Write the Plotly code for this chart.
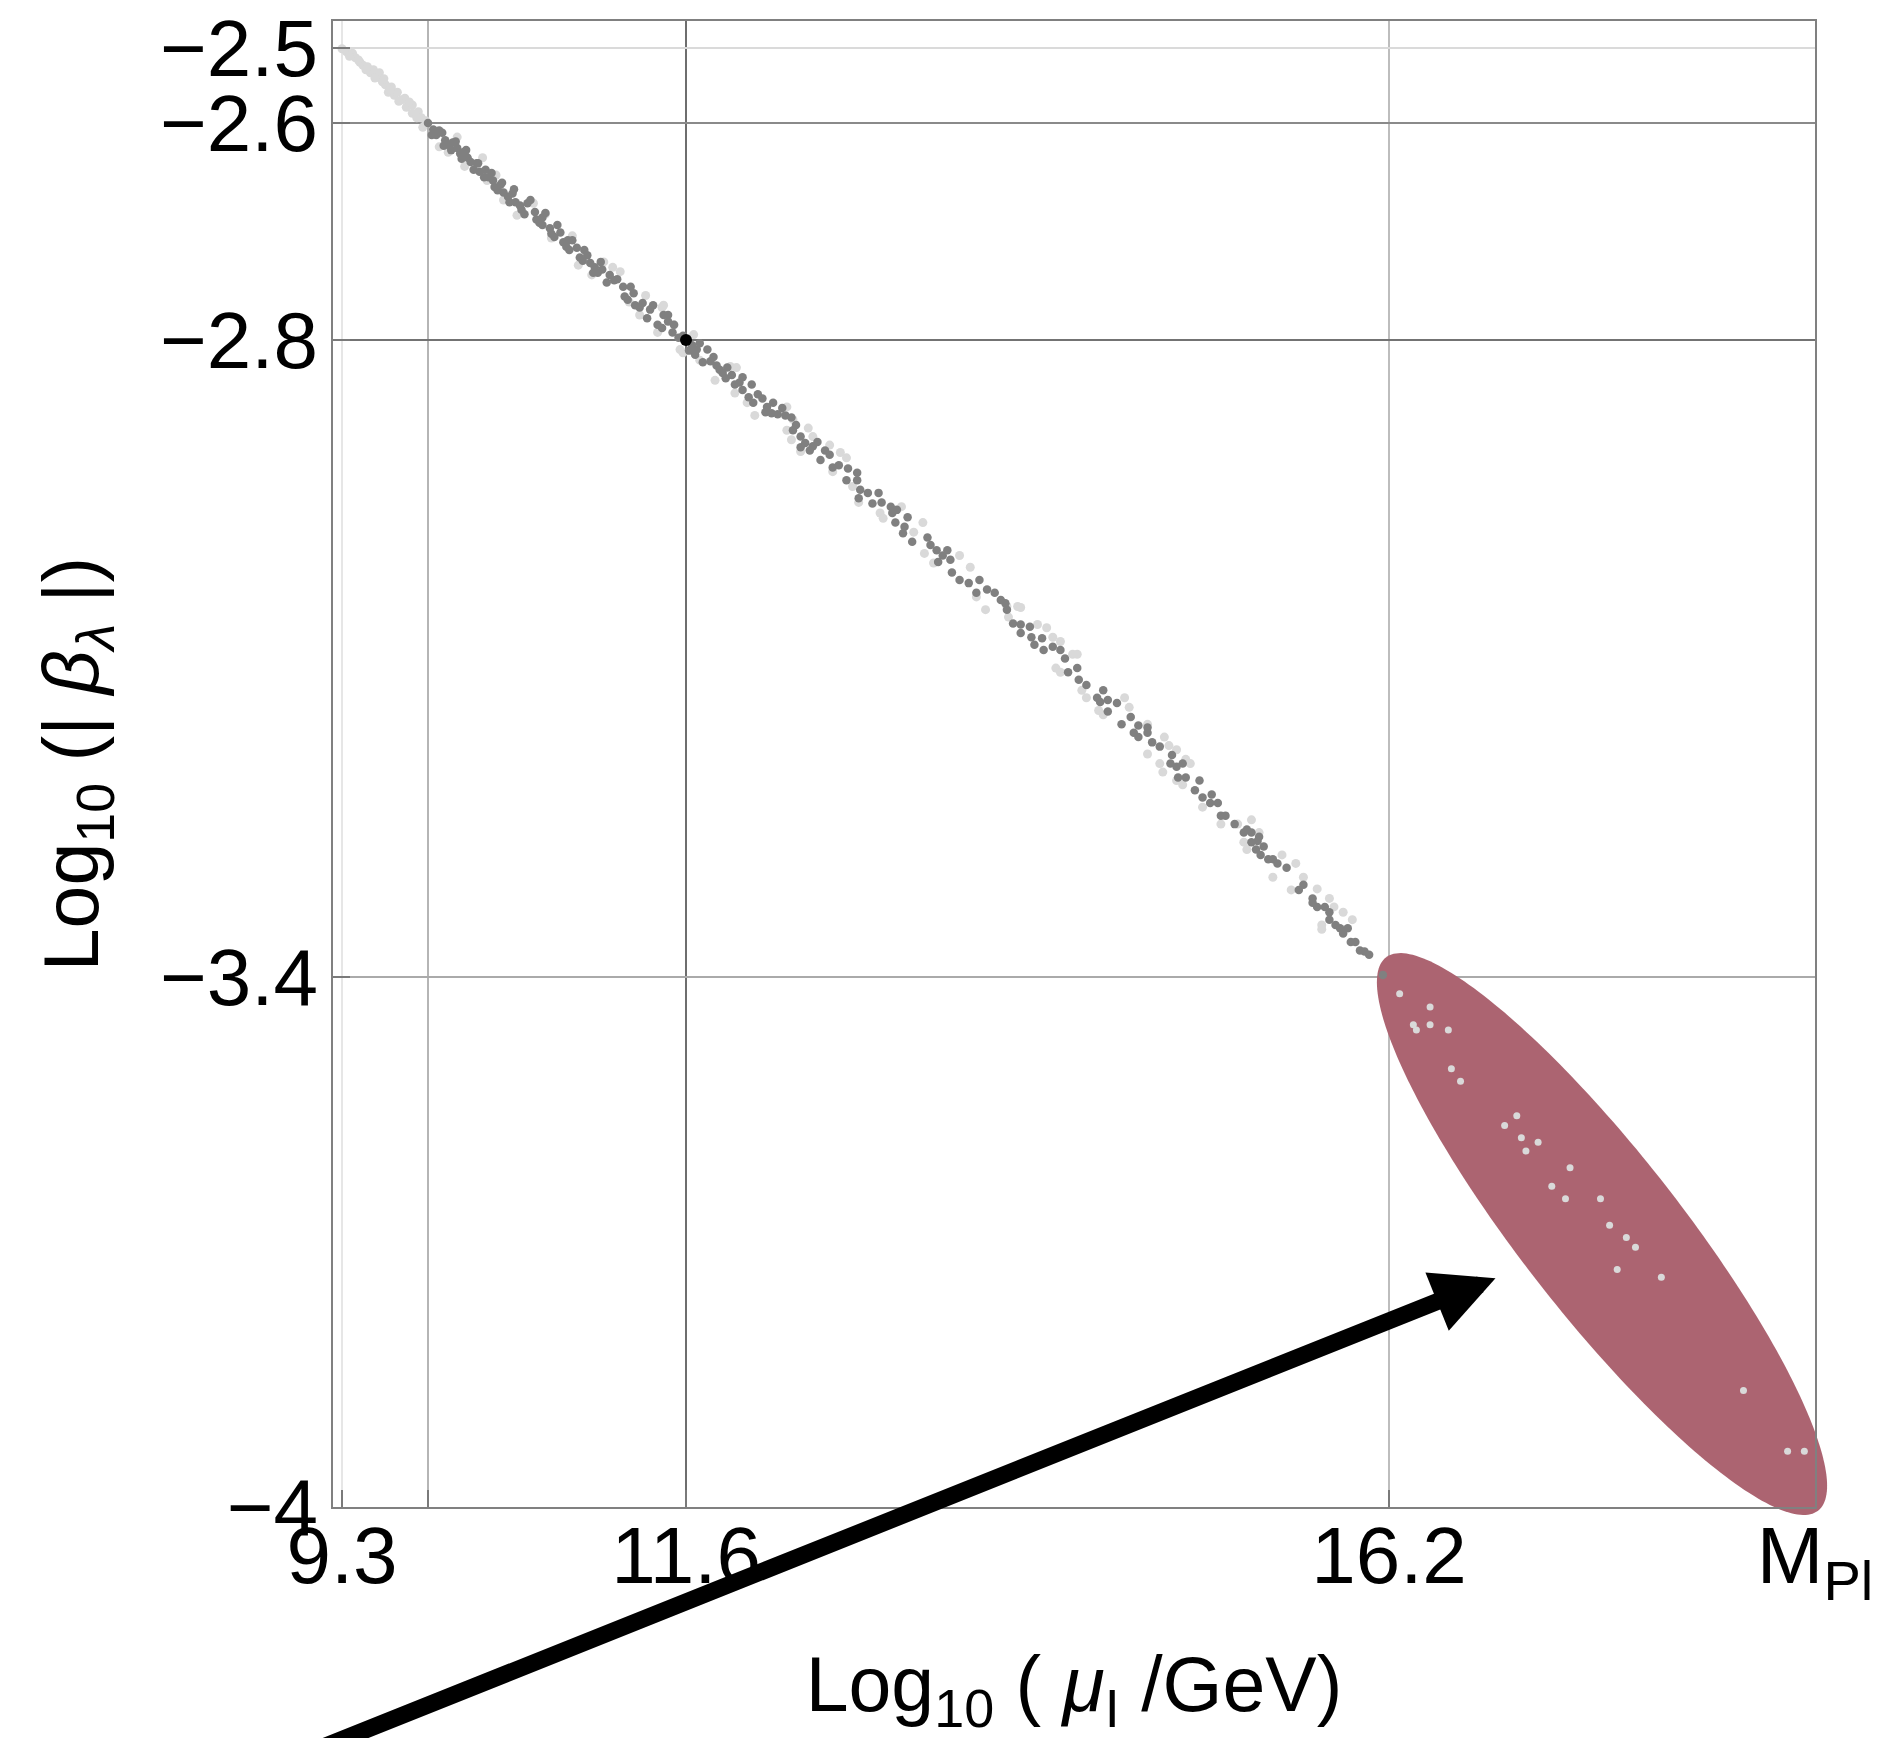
import numpy as np
import plotly.graph_objects as go

# ---------------- tick labels / scale ----------------
X_TICK_VALUES = [9.3, 9.875, 11.6, 16.2, 19.0]
X_TICK_TEXT = ["9.3", "", "11.6", "16.2", "M<sub>Pl</sub>"]
Y_TICK_VALUES = [-2.5, -2.6, -2.8, -3.4, -4.0]
Y_TICK_TEXT = ["\u22122.5", "\u22122.6", "\u22122.8", "\u22123.4", "\u22124"]

# ---------------- data ----------------
LIGHT_X = [9.30, 9.33, 9.37, 9.39, 9.37, 9.42, 9.44, 9.47, 9.49, 9.51, 9.53, 9.55, 9.57,
           9.59, 9.61, 9.63, 9.65, 9.67, 9.70, 9.72, 9.73, 9.77, 9.77, 9.81, 9.83, 9.84,
           10.01, 10.07, 10.24, 10.38, 10.27, 10.51, 10.58, 10.88, 11.11, 11.45, 11.41, 11.65,
           9.95, 10.12, 10.33, 10.47, 10.66, 10.70, 10.84, 10.97, 11.05, 11.22, 11.33, 11.52,
           11.16, 11.29, 11.44, 11.56, 11.58, 11.69, 11.79, 11.89, 11.93, 11.92, 12.00, 12.05,
           12.26, 12.30, 12.26, 12.29, 12.40, 12.43, 12.35, 12.54, 12.61, 12.65, 12.56, 12.69,
           12.73, 12.87, 13.01, 12.89, 13.09, 13.15, 13.16, 13.22, 13.39, 13.46, 13.50, 13.56,
           13.70, 13.77, 13.71,
           13.79, 13.90, 13.96, 14.00, 14.05, 14.13, 14.16, 14.02, 14.05, 14.19, 14.22, 14.30,
           14.33, 14.47, 14.50, 14.62, 14.73, 14.76, 14.81, 14.62, 14.70, 14.72, 14.81, 14.85,
           14.87, 14.90, 14.98, 15.10, 15.21, 15.30, 15.35, 15.25, 15.27, 15.50, 15.59, 15.44,
           15.64, 15.56, 15.73, 15.81, 15.84, 15.90, 15.96, 15.76, 15.76,
           9.35, 9.41, 9.46, 9.52, 9.58, 9.62, 9.68, 9.75, 9.80, 9.86]
LIGHT_Y = [-2.501, -2.505, -2.509, -2.513, -2.507, -2.519, -2.523, -2.525, -2.533, -2.529, -2.539,
           -2.533, -2.545, -2.549, -2.559, -2.552, -2.563, -2.559, -2.569, -2.567, -2.579, -2.576,
           -2.587, -2.585, -2.593, -2.604,
           -2.627, -2.613, -2.632, -2.671, -2.653, -2.683, -2.674, -2.731, -2.733, -2.768, -2.793, -2.795,
           -2.622, -2.640, -2.648, -2.685, -2.684, -2.706, -2.704, -2.740, -2.728, -2.765, -2.759, -2.786,
           -2.737, -2.777, -2.770, -2.809, -2.812, -2.819, -2.838, -2.825, -2.826, -2.850, -2.859, -2.871,
           -2.863, -2.875, -2.885, -2.894, -2.883, -2.891, -2.905, -2.899, -2.906, -2.911, -2.924, -2.938,
           -2.953, -2.963, -2.957, -2.968, -2.981, -2.972, -3.001, -3.010, -3.003, -3.014, -3.042, -3.054,
           -3.051, -3.051, -3.061,
           -3.052, -3.068, -3.071, -3.080, -3.084, -3.096, -3.096, -3.109, -3.113, -3.130, -3.137, -3.149,
           -3.153, -3.137, -3.146, -3.162, -3.174, -3.182, -3.186, -3.190, -3.199, -3.207, -3.215, -3.219,
           -3.195, -3.199, -3.240, -3.256, -3.256, -3.252, -3.264, -3.273, -3.280, -3.285, -3.293, -3.306,
           -3.306, -3.318, -3.317, -3.326, -3.334, -3.339, -3.346, -3.351, -3.355,
           -2.511, -2.516, -2.529, -2.540, -2.541, -2.556, -2.571, -2.572, -2.593, -2.597]

DARK_X = [9.875, 9.91, 9.93, 9.97, 9.99, 10.01, 10.04, 10.07, 10.09, 10.11, 10.14, 10.16, 10.20,
          10.22, 10.26, 10.28, 10.31, 10.32, 10.36, 10.38, 10.41, 10.44, 10.46, 10.49, 10.54, 10.50,
          10.59, 10.60, 10.64, 10.64, 10.69, 10.72, 10.76, 10.78, 10.81, 10.82, 10.87, 10.89, 10.94,
          10.96, 10.99, 11.01,
          11.04, 11.09, 11.12, 11.18, 11.19, 11.25, 11.26, 11.31, 11.36, 11.34, 11.41, 11.48, 11.48,
          11.51, 11.55, 11.64, 11.67, 11.66, 11.74, 11.71, 11.78, 11.80, 11.82, 11.87, 11.86, 11.90,
          11.92, 11.97, 11.97, 12.03, 12.01, 12.04, 12.10, 12.13, 12.16, 12.17, 12.23, 12.25, 12.29,
          12.30, 12.35, 12.38, 12.35, 12.41, 12.46, 12.48, 12.54, 12.56, 12.66, 12.65, 12.72, 12.72,
          12.74, 12.73, 12.79, 12.82, 12.86, 12.88, 12.94, 12.95, 12.98, 13.05, 12.97, 13.03, 13.02,
          13.08, 13.18, 13.20, 13.24, 13.28, 13.31, 13.25, 13.33, 13.34, 13.39, 13.45, 13.52, 13.50,
          13.57, 13.62, 13.66, 13.69,
          13.70, 13.74, 13.79, 13.85, 13.79, 13.86, 13.88, 13.93, 13.94, 14.00, 14.05, 14.08, 14.10,
          14.16, 14.17, 14.22, 14.29, 14.33, 14.31, 14.36, 14.42, 14.36, 14.45, 14.51, 14.56, 14.53,
          14.56, 14.62, 14.62, 14.65, 14.70, 14.78, 14.77, 14.81, 14.85, 14.82, 14.87, 14.96, 14.93,
          14.98, 15.04, 15.03, 15.08, 15.10, 15.13, 15.19, 15.27, 15.25, 15.30, 15.35, 15.30, 15.34,
          15.38, 15.33, 15.36, 15.41, 15.44, 15.47, 15.53, 15.64, 15.61, 15.70, 15.70, 15.73, 15.78,
          15.81, 15.81, 15.85, 15.88, 15.93, 15.90, 15.95, 15.98, 16.01, 16.04, 16.07, 16.16,
          9.90, 9.95, 9.98, 10.03, 10.06, 10.10, 10.13, 10.18, 10.21, 10.25, 10.30, 10.34, 10.37,
          10.42, 10.45, 10.52, 10.56, 10.62, 10.66, 10.70, 10.74, 10.80, 10.84, 10.91, 10.92, 10.98,
          11.03, 11.07, 11.14, 11.21, 11.23, 11.29, 11.38, 11.44, 11.45, 11.52, 11.58, 11.62, 11.69,
          11.76, 11.84, 11.95, 12.07, 12.12, 12.20, 12.32, 12.43, 12.51, 12.60]
DARK_Y = [-2.600, -2.606, -2.611, -2.609, -2.616, -2.620, -2.618, -2.623, -2.628, -2.627, -2.632,
          -2.636, -2.637, -2.645, -2.643, -2.650, -2.653, -2.659, -2.657, -2.664, -2.668, -2.665,
          -2.673, -2.676, -2.674, -2.680, -2.682, -2.689, -2.687, -2.694, -2.697, -2.705, -2.701,
          -2.710, -2.708, -2.717, -2.715, -2.724, -2.722, -2.729, -2.733, -2.738,
          -2.735, -2.740, -2.745, -2.751, -2.760, -2.757, -2.768, -2.766, -2.772, -2.780, -2.786,
          -2.777, -2.783, -2.793, -2.798, -2.805, -2.809, -2.814, -2.809, -2.821, -2.816, -2.824,
          -2.828, -2.826, -2.836, -2.833, -2.842, -2.835, -2.847, -2.842, -2.854, -2.859, -2.855,
          -2.863, -2.869, -2.859, -2.864, -2.871, -2.873, -2.885, -2.891, -2.897, -2.901, -2.904,
          -2.896, -2.913, -2.908, -2.920, -2.921, -2.932, -2.925, -2.932, -2.941, -2.949, -2.944,
          -2.954, -2.944, -2.953, -2.957, -2.963, -2.960, -2.967, -2.972, -2.976, -2.982, -2.990,
          -2.986, -2.993, -2.998, -3.003, -2.998, -3.009, -3.007, -3.019, -3.026, -3.029, -3.026,
          -3.038, -3.035, -3.038, -3.045, -3.048,
          -3.054, -3.067, -3.068, -3.070, -3.076, -3.080, -3.087, -3.081, -3.092, -3.089, -3.092,
          -3.100, -3.113, -3.109, -3.120, -3.125, -3.137, -3.130, -3.141, -3.139, -3.142, -3.150,
          -3.162, -3.155, -3.163, -3.170, -3.174, -3.165, -3.170, -3.179, -3.183, -3.191, -3.199,
          -3.202, -3.199, -3.212, -3.212, -3.215, -3.224, -3.231, -3.228, -3.236, -3.236, -3.248,
          -3.248, -3.256, -3.261, -3.264, -3.264, -3.268, -3.273, -3.272, -3.277, -3.280, -3.285,
          -3.289, -3.289, -3.293, -3.297, -3.313, -3.318, -3.326, -3.330, -3.334, -3.334, -3.339,
          -3.346, -3.351, -3.354, -3.354, -3.359, -3.367, -3.367, -3.375, -3.376, -3.379, -3.398,
          -2.611, -2.607, -2.621, -2.625, -2.617, -2.633, -2.625, -2.643, -2.637, -2.650, -2.646,
          -2.662, -2.655, -2.673, -2.661, -2.684, -2.671, -2.692, -2.683, -2.702, -2.694, -2.714,
          -2.708, -2.727, -2.717, -2.738, -2.728, -2.747, -2.744, -2.763, -2.751, -2.770, -2.768,
          -2.789, -2.777, -2.786, -2.796, -2.810, -2.803, -2.820, -2.831, -2.840, -2.851, -2.868,
          -2.870, -2.880, -2.900, -2.904, -2.918]

CORE_X = [16.27, 16.47, 16.36, 16.38, 16.47, 16.59, 16.61, 16.67, 17.04, 16.96, 17.07, 17.18,
          17.10, 17.39, 17.27, 17.36, 17.59, 17.65, 17.76, 17.82, 17.70, 17.99, 18.53, 18.82, 18.93]
CORE_Y = [-3.419, -3.434, -3.454, -3.460, -3.454, -3.460, -3.504, -3.518, -3.557, -3.568, -3.582,
          -3.587, -3.597, -3.616, -3.637, -3.651, -3.651, -3.681, -3.695, -3.706, -3.731, -3.740,
          -3.868, -3.937, -3.937]

MARK_X = [11.6]
MARK_Y = [-2.8]

# highlighted region (ellipse) and arrow, in data values
ELLIPSE_CENTER = (17.60, -3.691)
ARROW_TIP = (16.90, -3.741)
ARROW_TAIL = (8.785, -4.298)

# ---------------- frame scale (non-uniform axes) ----------------
X_SCALE_POS = [9, 95, 353, 1056, 1482]
Y_SCALE_POS = [27, 102, 319, 956, 1486]
X_FRAME = 1482
Y_FRAME = 1486


def scale(v, knots, pos):
    v = np.atleast_1d(np.asarray(v, float))
    k = np.asarray(knots, float)
    p = np.asarray(pos, float)
    if k[0] > k[-1]:
        k = k[::-1]
        p = p[::-1]
    out = np.interp(v, k, p)
    lo = v < k[0]
    hi = v > k[-1]
    out[lo] = p[0] + (v[lo] - k[0]) * (p[1] - p[0]) / (k[1] - k[0])
    out[hi] = p[-1] + (v[hi] - k[-1]) * (p[-1] - p[-2]) / (k[-1] - k[-2])
    return out


def sx(v):
    return scale(v, X_TICK_VALUES, X_SCALE_POS)


def sy(v):
    return scale(v, Y_TICK_VALUES, Y_SCALE_POS)


FONT = "Liberation Sans, Arial, Helvetica, sans-serif"
FS = 80
FS_TITLE = 77

fig = go.Figure()

fig.add_trace(go.Scatter(x=sx(LIGHT_X), y=sy(LIGHT_Y), mode="markers",
                         marker=dict(color="#d9d9d9", size=9, line=dict(width=0)),
                         hoverinfo="skip"))
fig.add_trace(go.Scatter(x=sx(DARK_X), y=sy(DARK_Y), mode="markers",
                         marker=dict(color="#808080", size=8.5, line=dict(width=0)),
                         hoverinfo="skip"))
fig.add_trace(go.Scatter(x=sx(CORE_X), y=sy(CORE_Y), mode="markers",
                         marker=dict(color="#d9d9d9", size=7, line=dict(width=0)),
                         hoverinfo="skip"))
fig.add_trace(go.Scatter(x=sx(MARK_X), y=sy(MARK_Y), mode="markers",
                         marker=dict(color="black", size=12, line=dict(width=0)),
                         hoverinfo="skip"))

# grid lines (individually styled)
X_GRID_COLORS = ["#e6e6e6", "#b5b5b5", "#6e6e6e", "#bdbdbd", None]
Y_GRID_COLORS = ["#dadada", "#8a8a8a", "#737373", "#aaaaaa", None]
shapes = []
for xv, c in zip(sx(X_TICK_VALUES), X_GRID_COLORS):
    if c:
        shapes.append(dict(type="line", xref="x", yref="paper", x0=xv, x1=xv, y0=0, y1=1,
                           line=dict(color=c, width=2), layer="below"))
for yv, c in zip(sy(Y_TICK_VALUES), Y_GRID_COLORS):
    if c:
        shapes.append(dict(type="line", xref="paper", yref="y", x0=0, x1=1, y0=yv, y1=yv,
                           line=dict(color=c, width=2), layer="below"))

# ellipse (paper coordinates so it is not clipped by the frame)
cx = sx(ELLIPSE_CENTER[0])[0]
cy = sy(ELLIPSE_CENTER[1])[0]
a, b, th = 351.0, 80.0, np.deg2rad(52.0)
t = np.linspace(0, 2 * np.pi, 241)
ex = cx + a * np.cos(t) * np.cos(th) - b * np.sin(t) * np.sin(th)
ey = cy + a * np.cos(t) * np.sin(th) + b * np.sin(t) * np.cos(th)
px = ex / X_FRAME
py = 1 - ey / Y_FRAME
path = "M " + " L ".join(f"{u:.5f},{w:.5f}" for u, w in zip(px, py)) + " Z"
shapes.append(dict(type="path", xref="paper", yref="paper", path=path,
                   fillcolor="#ac6471", line=dict(width=0), layer="below"))

fig.update_layout(
    width=1896, height=1738,
    margin=dict(l=333, r=81, t=21, b=231),
    paper_bgcolor="white", plot_bgcolor="white",
    showlegend=False,
    font=dict(family=FONT, size=FS, color="black"),
    shapes=shapes,
    annotations=[dict(
        x=sx(ARROW_TIP[0])[0], y=sy(ARROW_TIP[1])[0], xref="x", yref="y",
        ax=sx(ARROW_TAIL[0])[0], ay=sy(ARROW_TAIL[1])[0], axref="x", ayref="y",
        text="", showarrow=True, arrowhead=2, arrowsize=0.74, arrowwidth=17,
        arrowcolor="black")],
)

fig.update_xaxes(
    range=[0, X_FRAME], tickmode="array", tickvals=list(sx(X_TICK_VALUES)), ticktext=X_TICK_TEXT,
    ticks="inside", ticklen=17, tickwidth=2, tickcolor="#7a7a7a",
    showgrid=False, zeroline=False, showline=True, linecolor="#808080", linewidth=2, mirror=True,
    tickfont=dict(family=FONT, size=FS, color="black"), ticklabelstandoff=-22,
    title=dict(text="Log<sub>10</sub> ( <i>\u03bc</i><sub>I</sub> /GeV)",
               font=dict(family=FONT, size=FS_TITLE, color="black"), standoff=64),
    automargin=False, fixedrange=True,
)
fig.update_yaxes(
    range=[Y_FRAME, 0], tickmode="array", tickvals=list(sy(Y_TICK_VALUES)), ticktext=Y_TICK_TEXT,
    ticks="inside", ticklen=17, tickwidth=2, tickcolor="#7a7a7a",
    showgrid=False, zeroline=False, showline=True, linecolor="#808080", linewidth=2, mirror=True,
    tickfont=dict(family=FONT, size=FS, color="black"), ticklabelstandoff=-3,
    title=dict(text="Log<sub>10</sub> (| <i>\u03b2</i><sub><i>\u03bb</i></sub> |)",
               font=dict(family=FONT, size=FS_TITLE, color="black"), standoff=36),
    automargin=False, fixedrange=True,
)

fig.write_html("out.html")
